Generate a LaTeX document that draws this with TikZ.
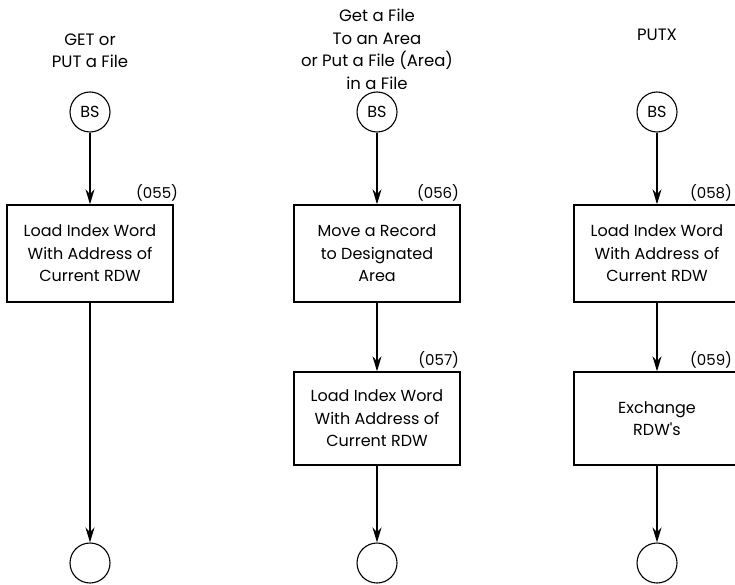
\documentclass[tikz,border=0pt]{standalone}
\usepackage{fontspec}
\setmainfont{Poppins}
\usetikzlibrary{arrows.meta}

\begin{document}
\begin{tikzpicture}[x=1pt,y=-1pt,line width=1.4pt,
  blk/.style={draw,minimum width=166pt,inner sep=0pt,align=center,font=\fontsize{16}{22.5}\selectfont},
  term/.style={draw,circle,minimum size=40pt,inner sep=0pt,line width=1.1pt,font=\fontsize{16}{18}\selectfont},
  head/.style={align=center,inner sep=0pt,font=\fontsize{16.5}{22.5}\selectfont},
  num/.style={anchor=south east,inner sep=0pt,font=\fontsize{15}{16}\selectfont},
  flow/.style={-{Stealth[length=15pt,width=9pt]}}]
\path[use as bounding box] (0,0) rectangle (735,585);
% column 1
\node[head] (h1) at (90,51) {GET or\\PUT a File};
\node[term] (t1) at (90,112) {BS};
\node[blk,minimum height=97pt] (b55) at (90,253.5) {Load Index Word\\With Address of\\Current RDW};
\node[num] at ([xshift=5pt,yshift=2pt]b55.north east) {(055)};
\node[term] (e1) at (90,563) {};
\draw[flow] (t1) -- (b55);
\draw[flow] (b55) -- (e1);
% column 2
\node[head] (h2) at (377,49.5) {Get a File\\To an Area\\or Put a File (Area)\\in a File};
\node[term] (t2) at (377,112) {BS};
\node[blk,minimum height=97pt] (b56) at (377,253.5) {Move a Record\\to Designated\\Area};
\node[num] at ([xshift=-1pt,yshift=2pt]b56.north east) {(056)};
\node[blk,minimum height=93pt] (b57) at (377,418.5) {Load Index Word\\With Address of\\Current RDW};
\node[num] at ([xshift=-1pt,yshift=2pt]b57.north east) {(057)};
\node[term] (e2) at (377,563) {};
\draw[flow] (t2) -- (b56);
\draw[flow] (b56) -- (b57);
\draw[flow] (b57) -- (e2);
% column 3
\node[head] (h3) at (657,35) {PUTX};
\node[term] (t3) at (657,112) {BS};
\node[blk,minimum height=97pt] (b58) at (657,253.5) {Load Index Word\\With Address of\\Current RDW};
\node[num] at ([xshift=-8pt,yshift=2pt]b58.north east) {(058)};
\node[blk,minimum height=93pt] (b59) at (657,418.5) {Exchange\\RDW\textquotesingle s};
\node[num] at ([xshift=-8pt,yshift=2pt]b59.north east) {(059)};
\node[term] (e3) at (657,563) {};
\draw[flow] (t3) -- (b58);
\draw[flow] (b58) -- (b59);
\draw[flow] (b59) -- (e3);
\end{tikzpicture}
\end{document}
